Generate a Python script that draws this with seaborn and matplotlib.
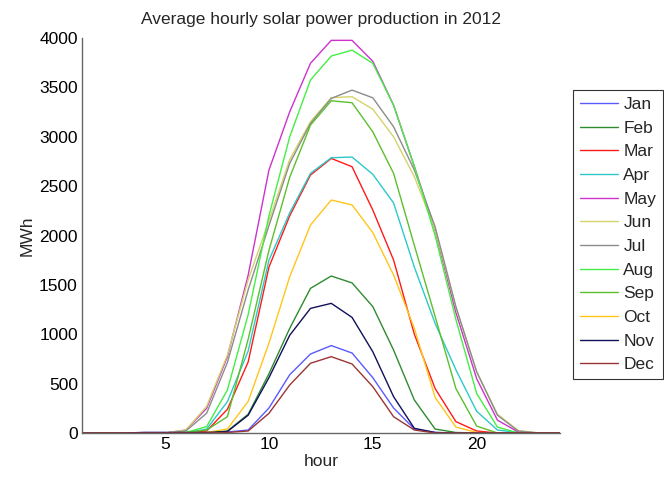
"""Average hourly solar power production in 2012, one line per month."""

import numpy as np
import pandas as pd
import matplotlib
matplotlib.use("Agg")
import matplotlib.pyplot as plt
import seaborn as sns

# hours of the day and the monthly hourly averages (MWh)
hours = list(range(1, 25))
months = ["Jan", "Feb", "Mar", "Apr", "May", "Jun",
          "Jul", "Aug", "Sep", "Oct", "Nov", "Dec"]

jan = [0, 0, 0, 5, 5, 5, 5, 10, 30, 253, 590, 800, 885, 810, 560, 253, 40, 5, 0, 0, 0, 0, 0, 0]
feb = [0, 0, 0, 0, 0, 0, 5, 20, 190, 600, 1060, 1465, 1590, 1520, 1280, 840, 334, 40, 5, 0, 0, 0, 0, 0]
mar = [0, 0, 0, 0, 0, 0, 20, 240, 720, 1680, 2200, 2613, 2781, 2697, 2258, 1752, 1000, 450, 115, 20, 0, 0, 0, 0]
apr = [0, 0, 0, 0, 0, 0, 40, 317, 830, 1750, 2230, 2630, 2788, 2795, 2620, 2330, 1680, 1110, 640, 220, 30, 5, 0, 0]
may = [0, 0, 0, 0, 0, 30, 250, 773, 1600, 2663, 3254, 3745, 3977, 3977, 3765, 3320, 2700, 2050, 1220, 550, 130, 10, 0, 0]
jun = [0, 0, 0, 0, 0, 30, 270, 790, 1550, 2150, 2770, 3153, 3396, 3406, 3280, 3000, 2596, 2060, 1270, 620, 190, 25, 0, 0]
jul = [0, 0, 0, 0, 0, 20, 200, 715, 1450, 2100, 2731, 3136, 3389, 3473, 3395, 3102, 2663, 2089, 1280, 620, 180, 20, 0, 0]
aug = [0, 0, 0, 0, 0, 5, 65, 435, 1200, 2200, 3000, 3575, 3818, 3878, 3744, 3320, 2700, 2000, 1150, 400, 60, 0, 0, 0]
sep = [0, 0, 0, 0, 0, 5, 30, 165, 950, 1850, 2590, 3119, 3365, 3345, 3050, 2630, 1900, 1180, 450, 70, 0, 0, 0, 0]
oct_ = [0, 0, 0, 0, 0, 0, 5, 40, 320, 910, 1583, 2106, 2360, 2310, 2030, 1600, 1060, 360, 60, 5, 0, 0, 0, 0]
nov = [0, 0, 0, 5, 5, 5, 5, 15, 180, 560, 990, 1262, 1313, 1171, 823, 368, 47, 5, 0, 0, 0, 0, 0, 0]
dec = [0, 0, 0, 0, 0, 0, 0, 5, 20, 199, 486, 706, 773, 699, 469, 165, 30, 0, 0, 0, 0, 0, 0, 0]

series = [jan, feb, mar, apr, may, jun, jul, aug, sep, oct_, nov, dec]

colors = ["#5a5aff", "#2e8b2e", "#ff1a1a", "#2ec8c8", "#cc33cc", "#d4d46a",
          "#8c8c8c", "#44ee44", "#5cbf2e", "#ffc61a", "#10105a", "#9a3535"]

df = pd.DataFrame({
    "hour": np.tile(hours, len(months)),
    "MWh": np.concatenate(series),
    "month": np.repeat(months, len(hours)),
})

sns.set_style("white")
plt.rcParams["font.family"] = ["Liberation Sans", "DejaVu Sans"]

fig = plt.figure(figsize=(6.64, 4.82), dpi=100)
ax = fig.add_axes([0.1235, 0.1017, 0.7195, 0.8193])

sns.lineplot(data=df, x="hour", y="MWh", hue="month", hue_order=months,
             palette=dict(zip(months, colors)), linewidth=1.0, ax=ax)

ax.set_xlim(1, 24)
ax.set_ylim(0, 4000)
ax.set_xticks([5, 10, 15, 20])
ax.set_yticks(np.arange(0, 4001, 500))
ax.tick_params(direction="in", length=4, width=0.8, labelsize=12.5,
               colors="#555555", labelcolor="black", pad=3)
for s in ["top", "right"]:
    ax.spines[s].set_visible(False)
for s in ["left", "bottom"]:
    ax.spines[s].set_color("#666666")
    ax.spines[s].set_linewidth(1.0)

ax.set_title("Average hourly solar power production in 2012", fontsize=12.5, pad=10)
ax.set_xlabel("hour", fontsize=12.5, labelpad=1)
ax.set_ylabel("MWh", fontsize=12.5, labelpad=3)

handles, labels = ax.get_legend_handles_labels()
ax.get_legend().remove()
leg = fig.legend(handles, labels, loc="upper left",
                 bbox_to_anchor=(573 / 664, 1 - 90 / 482),
                 bbox_transform=fig.transFigure,
                 fontsize=12.5, frameon=True, fancybox=False,
                 handlelength=2.2, handletextpad=0.3, labelspacing=0.49,
                 borderpad=0.4, borderaxespad=0)
leg.get_frame().set_edgecolor("black")
leg.get_frame().set_linewidth(0.8)

fig.savefig("out.png", dpi=100)
